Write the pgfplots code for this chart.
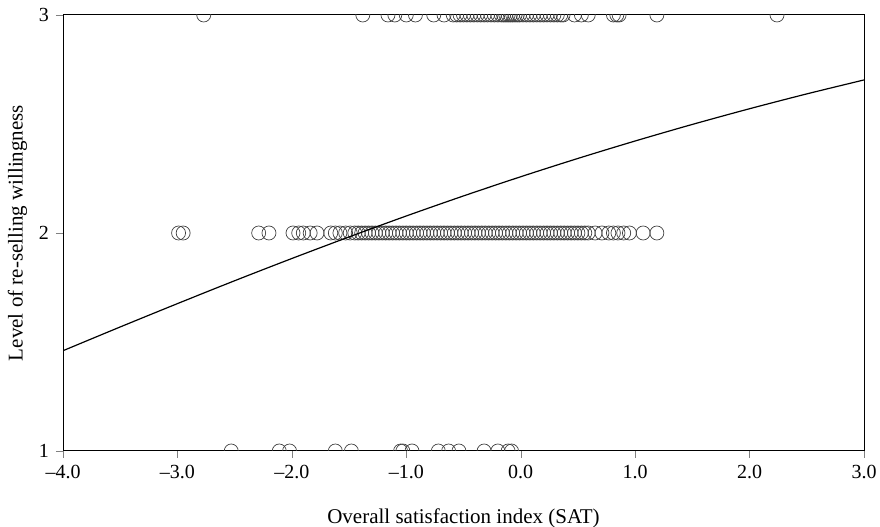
\documentclass[border=0pt]{standalone}
\usepackage{fontspec}
\setmainfont{Liberation Serif}
\usepackage{pgfplots}
\pgfplotsset{compat=1.18}

\begin{document}
\begin{tikzpicture}
\begin{axis}[
  scale only axis,
  width=400.5pt,height=218pt,
  xmin=-4,xmax=3,ymin=1,ymax=3,
  axis line style={line width=0.5pt},
  xtick={-4,-3,-2,-1,0,1,2,3},
  xticklabels={–4.0,–3.0,–2.0,–1.0,0.0,1.0,2.0,3.0},
  ytick={1,2,3},
  tick align=outside,
  major tick length=3.5pt,
  xtick pos=bottom,ytick pos=left,
  /pgf/number format/assume math mode=true,
  tick label style={font=\fontsize{10}{12}\selectfont},
  label style={font=\fontsize{10.5}{12.5}\selectfont},
  xlabel={Overall satisfaction index (SAT)},
  ylabel={Level of re-selling willingness},
  xlabel style={yshift=-8pt},
  ylabel style={yshift=-1pt},
  clip=true,
  clip marker paths=true,
]
% level 1
\addplot[only marks,mark=o,mark size=3.5pt,mark options={line width=0.35pt,draw=black!75}] coordinates {
  (-2.53,1) (-2.11,1) (-2.02,1) (-1.62,1) (-1.48,1) (-1.05,1) (-1.03,1)
  (-0.95,1) (-0.72,1) (-0.63,1) (-0.54,1) (-0.32,1) (-0.20,1) (-0.11,1) (-0.08,1)
};
% level 2
\addplot[only marks,mark=o,mark size=3.5pt,mark options={line width=0.35pt,draw=black!75}] coordinates {
  (-2.99,2) (-2.95,2) (-2.29,2) (-2.20,2) (-1.99,2) (-1.94,2) (-1.90,2)
  (-1.84,2) (-1.78,2) (-1.66,2) (-1.62,2) (-1.58,2) (-1.53,2) (-1.49,2) (-1.45,2)
  (-1.42,2) (-1.39,2) (-1.36,2) (-1.33,2) (-1.30,2) (-1.27,2) (-1.24,2) (-1.21,2)
  (-1.18,2) (-1.15,2) (-1.12,2) (-1.09,2) (-1.06,2) (-1.03,2) (-1.00,2) (-0.97,2)
  (-0.94,2) (-0.91,2) (-0.88,2) (-0.85,2) (-0.82,2) (-0.79,2) (-0.76,2) (-0.73,2)
  (-0.70,2) (-0.67,2) (-0.64,2) (-0.61,2) (-0.58,2) (-0.55,2) (-0.52,2) (-0.49,2)
  (-0.46,2) (-0.43,2) (-0.40,2) (-0.37,2) (-0.34,2) (-0.31,2) (-0.28,2) (-0.25,2)
  (-0.22,2) (-0.19,2) (-0.16,2) (-0.13,2) (-0.10,2) (-0.07,2) (-0.04,2) (-0.01,2)
  (0.02,2) (0.05,2) (0.08,2) (0.11,2) (0.14,2) (0.17,2) (0.20,2) (0.23,2)
  (0.26,2) (0.29,2) (0.32,2) (0.35,2) (0.38,2) (0.41,2) (0.44,2) (0.47,2)
  (0.50,2) (0.53,2) (0.56,2) (0.59,2) (0.65,2) (0.71,2) (0.77,2) (0.81,2)
  (0.85,2) (0.90,2) (0.95,2) (1.07,2) (1.19,2)
};
% level 3
\addplot[only marks,mark=o,mark size=3.5pt,mark options={line width=0.35pt,draw=black!75}] coordinates {
  (-2.77,3) (-1.38,3) (-1.16,3) (-1.10,3) (-1.00,3) (-0.92,3) (-0.76,3) (-0.67,3)
  (-0.59,3) (-0.56,3) (-0.53,3) (-0.50,3) (-0.47,3) (-0.44,3) (-0.41,3) (-0.38,3)
  (-0.35,3) (-0.32,3) (-0.29,3) (-0.26,3) (-0.23,3) (-0.20,3) (-0.17,3) (-0.15,3)
  (-0.13,3) (-0.11,3) (-0.09,3) (-0.07,3) (-0.05,3) (-0.03,3) (-0.01,3) (0.02,3)
  (0.05,3) (0.08,3) (0.11,3) (0.14,3) (0.17,3) (0.20,3) (0.23,3) (0.26,3)
  (0.29,3) (0.32,3) (0.35,3) (0.37,3) (0.47,3) (0.53,3) (0.59,3) (0.81,3)
  (0.84,3) (0.86,3) (1.19,3) (2.24,3)
};
% fitted curve
\addplot[black,line width=0.6pt,smooth] coordinates {
  (-4,1.46) (-3.5,1.569) (-3,1.676) (-2.5,1.781) (-2,1.883) (-1.5,1.982)
  (-1,2.078) (-0.5,2.170) (0,2.258) (0.5,2.342) (1,2.422) (1.5,2.498)
  (2,2.570) (2.5,2.638) (3,2.702)
};
\end{axis}
\pgfresetboundingbox
\path[use as bounding box] ([xshift=-31.5pt,yshift=-38pt]current axis.south west)
  rectangle ([xshift=8pt,yshift=7.5pt]current axis.north east);
\end{tikzpicture}
\end{document}
